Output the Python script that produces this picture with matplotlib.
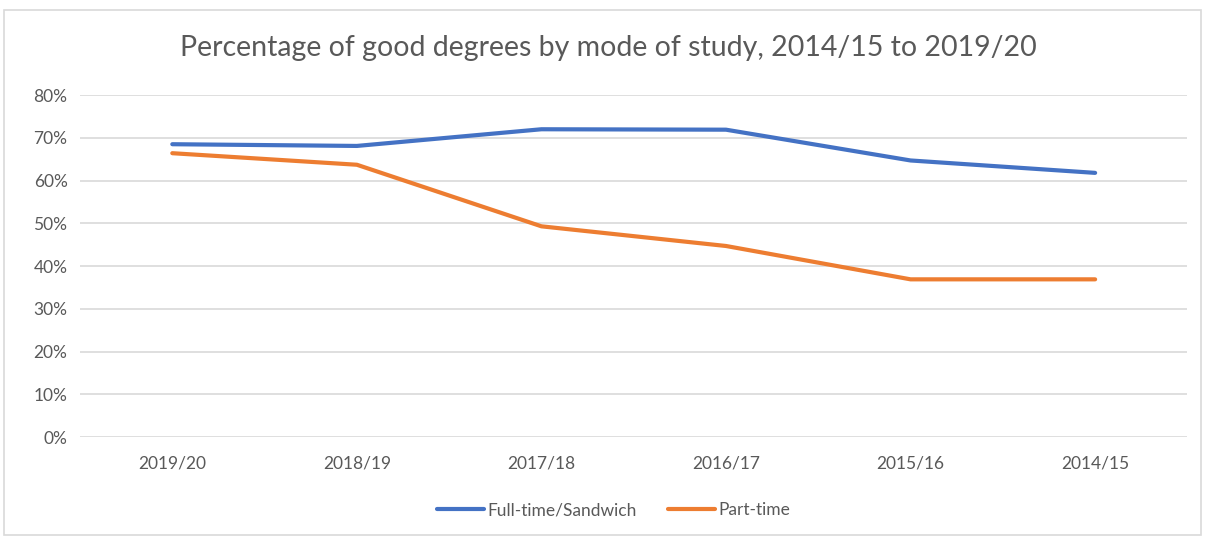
import matplotlib.pyplot as plt
from matplotlib.patches import Rectangle
from matplotlib.ticker import PercentFormatter

years = ["2019/20", "2018/19", "2017/18", "2016/17", "2015/16", "2014/15"]
full_time = [68.5, 68.1, 72.0, 71.9, 64.7, 61.8]
part_time = [66.4, 63.7, 49.3, 44.7, 36.9, 36.9]

text_grey = "#595959"
plt.rcParams["font.family"] = ["Lato", "DejaVu Sans"]

fig = plt.figure(figsize=(12.05, 5.37), dpi=100)
fig.patches.append(Rectangle((0.003, 0.003), 0.994, 0.978, transform=fig.transFigure,
                             fill=False, edgecolor="#d9d9d9", linewidth=1.2))
ax = fig.add_axes([0.0664, 0.186, 0.919, 0.637])

x = range(len(years))
ax.plot(x, full_time, color="#4472c4", lw=3, solid_capstyle="round",
        solid_joinstyle="round", label="Full-time/Sandwich")
ax.plot(x, part_time, color="#ed7d31", lw=3, solid_capstyle="round",
        solid_joinstyle="round", label="Part-time")

ax.set_xlim(-0.5, len(years) - 0.5)
ax.set_ylim(0, 80)
ax.set_yticks(range(0, 81, 10))
ax.yaxis.set_major_formatter(PercentFormatter(decimals=0))
ax.set_xticks(list(x))
ax.set_xticklabels(years)
ax.grid(axis="y", color="#d9d9d9", lw=1.2)
ax.set_axisbelow(True)
for s in ax.spines.values():
    s.set_visible(False)
ax.tick_params(length=0, labelsize=12.5, labelcolor=text_grey)
ax.tick_params(axis="x", pad=13)
ax.tick_params(axis="y", pad=9)

fig.text(0.505, 0.91, "Percentage of good degrees by mode of study, 2014/15 to 2019/20",
         ha="center", va="center", fontsize=20.5, color=text_grey)
fig.legend(loc="center", bbox_to_anchor=(0.509, 0.05), ncol=2, frameon=False,
           fontsize=12.5, labelcolor=text_grey, handlelength=2.7, handletextpad=0.2,
           columnspacing=1.8)

fig.savefig("out.png", dpi=100)
